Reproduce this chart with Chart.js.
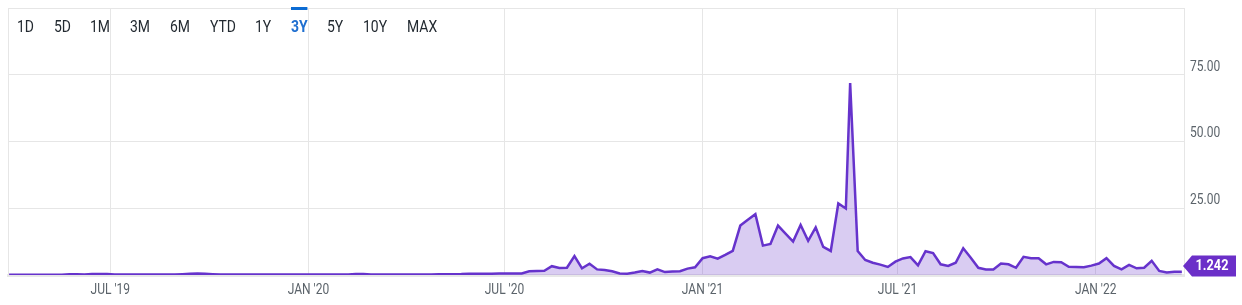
<!DOCTYPE html>
<html>
<head>
<meta charset="utf-8">
<script src="https://cdn.jsdelivr.net/npm/chart.js@4.4.0/dist/chart.umd.min.js"></script>
<style>
  body { margin: 0; background: #fff; font-family: Roboto, sans-serif; }
  #wrap { position: relative; width: 1242px; height: 305px; }
  #ranges { position: absolute; left: 17px; top: 8px; height: 37px; display: flex; }
  #ranges span { position: relative; display: inline-block; font-size: 17px; line-height: 37px; color: #232a31;
                 transform: scaleX(0.82); transform-origin: left center; white-space: nowrap; }
  #ranges span.active { color: #1f6fd0; font-weight: 700; }
  #ranges span.active::before { content: ''; position: absolute; left: 0; right: 0; top: -1px; height: 3px; background: #0b6bd3; }
</style>
</head>
<body>
<div id="wrap">
  <canvas id="myChart" width="1242" height="305"></canvas>
  <div id="ranges"></div>
</div>
<script>
const rangeButtons = ['1D', '5D', '1M', '3M', '6M', 'YTD', '1Y', '3Y', '5Y', '10Y', 'MAX'];
const activeRange = '3Y';

// weekly closes, first week up to the spike week
const firstWeek = '2019-03-29';
const closesBeforePeak = [
    0.1, 0.1, 0.1, 0.1, 0.1, 0.1, 0.1, 0.1,
    0.3, 0.3, 0.2, 0.35, 0.35, 0.35,
    0.15, 0.15, 0.15, 0.15, 0.15, 0.15, 0.15, 0.15, 0.15,
    0.3, 0.5, 0.6, 0.5, 0.3,
    0.15, 0.15, 0.15, 0.15, 0.15, 0.15, 0.15, 0.15, 0.15, 0.15, 0.15, 0.15, 0.15, 0.15, 0.15, 0.15, 0.15, 0.15,
    0.35, 0.35,
    0.2, 0.2, 0.2, 0.2, 0.2, 0.2, 0.2, 0.2, 0.2,
    0.25, 0.3, 0.3, 0.35,
    0.5, 0.5, 0.5, 0.5, 0.55, 0.55, 0.6,
    0.6,
    1.4, 1.5, 1.6,
    3.3, 2.6, 2.7, 7.1, 2.5, 4.2, 2.1, 1.9, 1.4, 0.6,
    0.5, 0.9, 1.5, 0.9, 2.1, 1.1, 1.3, 1.4, 2.4, 2.9,
    6.3, 7.0, 6.1, 7.5, 9.0, 18.5, 20.7, 22.8, 11.0, 11.6,
    18.5, 15.5, 12.5, 18.7, 12.8, 17.8, 10.5, 9.0, 26.8, 24.9
];

// weekly closes from the spike day on
const peakDay = '2021-05-18';
const closesFromPeak = [
    71.9, 9.0, 5.6, 4.6, 3.9, 3.0, 5.0, 6.2, 6.7, 3.6,
    8.9, 8.2, 4.0, 3.4, 4.6, 10.0, 6.5, 2.7, 2.1, 2.1,
    4.3, 4.0, 2.7, 6.8, 6.3, 6.3, 4.0, 4.9, 4.8, 3.1,
    3.0, 2.9, 3.5, 4.3, 6.3, 3.4, 2.1, 3.8, 2.5, 2.7,
    5.3, 1.5, 0.9, 1.2, 1.242
];

const xRange = ['2019-03-28', '2022-03-24'];
const xTickDates = ['2019-07-01', '2020-01-01', '2020-07-01', '2021-01-01', '2021-07-01', '2022-01-01'];
const xTickLabels = ["JUL '19", "JAN '20", "JUL '20", "JAN '21", "JUL '21", "JAN '22"];
const yTickValues = [25, 50, 75];
const lastLabel = '1.242';

const DAY = 864e5;
const weekly = (start, vals) => vals.map((v, i) => ({ x: Date.parse(start) + i * 7 * DAY, y: v }));
const points = weekly(firstWeek, closesBeforePeak).concat(weekly(peakDay, closesFromPeak));

// range buttons, narrowed to look like the condensed face of the original
const ranges = document.getElementById('ranges');
rangeButtons.forEach(r => {
    const s = document.createElement('span');
    s.textContent = r;
    if (r === activeRange) s.className = 'active';
    ranges.appendChild(s);
    s.style.marginRight = (19.7 - s.offsetWidth * 0.18) + 'px';
});

const purple = '#6633cc';
const textGray = '#5b636a';
const gridGray = '#e6e6e6';

function squashText(ctx, text, x, y, align, sx) {
    ctx.save();
    ctx.translate(x, y);
    ctx.scale(sx, 1);
    ctx.textAlign = align;
    ctx.textBaseline = 'middle';
    ctx.fillText(text, 0, 0);
    ctx.restore();
}

const frame = {
    id: 'frame',
    beforeDatasetsDraw(chart) {
        const { ctx, chartArea } = chart;
        ctx.save();
        ctx.strokeStyle = gridGray;
        ctx.lineWidth = 1;
        ctx.beginPath();
        ctx.moveTo(chartArea.left + 0.5, chartArea.top);
        ctx.lineTo(chartArea.left + 0.5, chartArea.bottom);
        ctx.stroke();
        ctx.restore();
    },
    afterDatasetsDraw(chart) {
        const { ctx, chartArea, scales } = chart;
        // axis labels
        ctx.save();
        ctx.fillStyle = textGray;
        ctx.font = '15.5px Roboto';
        scales.x.ticks.forEach((t, i) => {
            squashText(ctx, xTickLabels[i], scales.x.getPixelForValue(t.value), chartArea.bottom + 15, 'center', 0.775);
        });
        scales.y.ticks.forEach(t => {
            if (!yTickValues.includes(t.value)) return;
            squashText(ctx, t.value.toFixed(2), chartArea.right + 6, scales.y.getPixelForValue(t.value) - 8, 'left', 0.775);
        });
        ctx.restore();

        // last value badge
        const meta = chart.getDatasetMeta(0);
        const last = meta.data[meta.data.length - 1];
        const h = 21;
        const cy = Math.min(last.y, chartArea.bottom + 1.5 - h / 2);
        const r = chartArea.right;
        ctx.save();
        ctx.fillStyle = '#6b2fc8';
        ctx.beginPath();
        ctx.moveTo(r - 1, cy);
        ctx.lineTo(r + 8, cy - h / 2);
        ctx.lineTo(r + 52, cy - h / 2);
        ctx.lineTo(r + 52, cy + h / 2);
        ctx.lineTo(r + 8, cy + h / 2);
        ctx.closePath();
        ctx.fill();
        ctx.fillStyle = '#fff';
        ctx.font = 'bold 15px Roboto';
        squashText(ctx, lastLabel, r + 28, cy + 0.5, 'center', 0.85);
        ctx.restore();
    }
};

new Chart(document.getElementById('myChart'), {
    type: 'line',
    data: {
        datasets: [{
            data: points,
            borderColor: purple,
            backgroundColor: 'rgba(102, 51, 204, 0.25)',
            borderWidth: 2.5,
            fill: 'origin',
            pointRadius: 0,
            tension: 0
        }]
    },
    options: {
        responsive: false,
        animation: false,
        layout: { padding: { left: 8, top: 8, right: 0, bottom: 0 } },
        plugins: { legend: { display: false }, tooltip: { enabled: false } },
        scales: {
            x: {
                type: 'linear',
                min: Date.parse(xRange[0]),
                max: Date.parse(xRange[1]),
                afterBuildTicks: s => { s.ticks = xTickDates.map(d => ({ value: Date.parse(d) })); },
                ticks: { display: false, autoSkip: false },
                grid: { color: gridGray, drawTicks: false },
                border: { display: true, color: '#e8e8e8', width: 3 },
                afterFit: s => { s.height = 30; }
            },
            y: {
                position: 'right',
                min: 0,
                max: 100,
                ticks: { display: false, stepSize: 25 },
                grid: { color: gridGray, drawTicks: false },
                border: { display: true, color: gridGray },
                afterFit: s => { s.width = 58; }
            }
        }
    },
    plugins: [frame]
});
</script>
</body>
</html>
